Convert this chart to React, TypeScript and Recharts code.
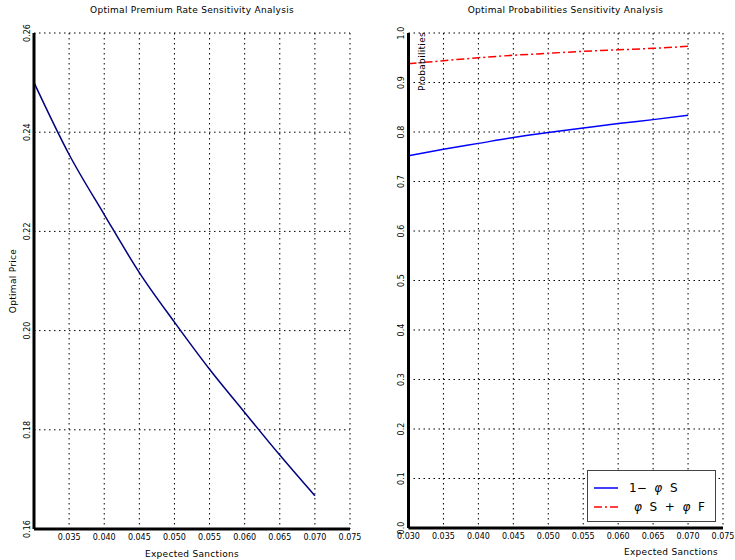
import React from "react";
import { LineChart, Line, XAxis, YAxis, CartesianGrid } from "recharts";

// valeurs
const sanctions = [0.03, 0.035, 0.04, 0.045, 0.05, 0.055, 0.06, 0.065, 0.07];
const premiumRate = [0.25, 0.2355, 0.2234, 0.2117, 0.2017, 0.1922, 0.1835, 0.1749, 0.1667];
const oneMinusPhiS = [0.752, 0.765, 0.777, 0.789, 0.799, 0.808, 0.817, 0.825, 0.8336];
const phiSPlusPhiF = [0.938, 0.944, 0.95, 0.955, 0.959, 0.963, 0.966, 0.969, 0.973];

const xTicks = [0.03, 0.035, 0.04, 0.045, 0.05, 0.055, 0.06, 0.065, 0.07, 0.075];
const priceTicks = [0.16, 0.18, 0.2, 0.22, 0.24, 0.26];
const probTicks = [0, 0.1, 0.2, 0.3, 0.4, 0.5, 0.6, 0.7, 0.8, 0.9, 1.0];

const FONT = "'DejaVu Sans', sans-serif";

const premiumData = sanctions.map((x, i) => ({ x, price: premiumRate[i] }));
const probData = sanctions.map((x, i) => ({ x, s: oneMinusPhiS[i], sf: phiSPlusPhiF[i] }));

const XTick = ({ x, y, payload, hideFirst }: any) => {
  if (hideFirst && Math.abs(payload.value - 0.03) < 1e-9) return null;
  return (
    <text x={x} y={y + 11} textAnchor="middle" fontSize={8} fontFamily={FONT} fill="#000">
      {payload.value.toFixed(3)}
    </text>
  );
};

const YTick = ({ x, y, payload, digits }: any) => (
  <text
    x={x}
    y={y}
    transform={`rotate(-90, ${x}, ${y})`}
    textAnchor="middle"
    fontSize={8}
    fontFamily={FONT}
    fill="#000"
  >
    {payload.value.toFixed(digits)}
  </text>
);

// légende encadrée
const ProbLegend = () => (
  <div
    style={{
      position: "absolute",
      left: 587,
      top: 470,
      width: 129,
      height: 52,
      border: "1.5px solid #444",
      background: "#fff",
      boxSizing: "border-box",
    }}
  >
    <svg width={129} height={52} style={{ position: "absolute", left: -1.5, top: -1.5 }}>
      <line x1={7} x2={31} y1={18} y2={18} stroke="#0000ff" strokeWidth={1.5} />
      <line x1={7} x2={31} y1={37} y2={37} stroke="#ff0000" strokeWidth={1.5} strokeDasharray="8 3 2 3" />
      <text x={42} y={22} fontSize={12} fontFamily={FONT} style={{ whiteSpace: "pre" }}>
        {"1−  "}<tspan fontStyle="italic">φ</tspan>{"  S"}
      </text>
      <text x={47} y={41} fontSize={12} fontFamily={FONT} style={{ whiteSpace: "pre" }}>
        <tspan fontStyle="italic">φ</tspan>{"  S  +  "}<tspan fontStyle="italic">φ</tspan>{"  F"}
      </text>
    </svg>
  </div>
);

const labelFont = { fontSize: 9, fontFamily: FONT, fill: "#000", letterSpacing: 0.3 };

export default function App() {
  return (
    <div style={{ position: "absolute", left: 0, top: 0, width: 735, height: 560, background: "#fff", fontFamily: FONT }}>
      <div style={{ position: "absolute", left: 34, width: 316, top: 5, fontSize: 9, letterSpacing: 0.3, textAlign: "center" }}>
        Optimal Premium Rate Sensitivity Analysis
      </div>
      <div style={{ position: "absolute", left: 408, width: 315, top: 5, fontSize: 9, letterSpacing: 0.3, textAlign: "center" }}>
        Optimal Probabilities Sensitivity Analysis
      </div>

      {/* graphique de gauche */}
      <div style={{ position: "absolute", left: 0, top: 0 }}>
        <LineChart width={370} height={560} data={premiumData} margin={{ top: 33, right: 20, left: 0, bottom: 0 }}>
          <CartesianGrid stroke="#000" strokeDasharray="1.5 3.5" />
          <XAxis
            dataKey="x"
            type="number"
            domain={[0.03, 0.075]}
            ticks={xTicks}
            height={31}
            tickSize={0}
            tickMargin={0}
            tickLine={false}
            axisLine={{ stroke: "#000", strokeWidth: 3 }}
            tick={<XTick hideFirst />}
            interval={0}
            label={{ value: "Expected Sanctions", position: "insideBottom", offset: 3, ...labelFont }}
          />
          <YAxis
            type="number"
            domain={[0.16, 0.26]}
            ticks={priceTicks}
            width={34}
            tickSize={0}
            tickMargin={4}
            tickLine={false}
            axisLine={{ stroke: "#000", strokeWidth: 3 }}
            tick={<YTick digits={2} />}
            interval={0}
            label={{ value: "Optimal Price", angle: -90, position: "insideLeft", offset: 13, ...labelFont, style: { textAnchor: "middle" } }}
          />
          <Line type="monotone" dataKey="price" stroke="#000080" strokeWidth={1.5} dot={false} isAnimationActive={false} />
        </LineChart>
      </div>

      {/* graphique de droite */}
      <div style={{ position: "absolute", left: 370, top: 0 }}>
        <LineChart width={365} height={560} data={probData} margin={{ top: 33, right: 12, left: 0, bottom: 0 }}>
          <CartesianGrid stroke="#000" strokeDasharray="1.5 3.5" />
          <XAxis
            dataKey="x"
            type="number"
            domain={[0.03, 0.075]}
            ticks={xTicks}
            height={32}
            tickSize={0}
            tickMargin={0}
            tickLine={false}
            axisLine={{ stroke: "#000", strokeWidth: 3 }}
            tick={<XTick />}
            interval={0}
            label={{ value: "Expected Sanctions", position: "insideBottomRight", offset: 5, ...labelFont }}
          />
          <YAxis
            type="number"
            domain={[0, 1]}
            ticks={probTicks}
            width={38.5}
            tickSize={0}
            tickMargin={5}
            tickLine={false}
            axisLine={{ stroke: "#000", strokeWidth: 3 }}
            tick={<YTick digits={1} />}
            interval={0}
          />
          <Line type="monotone" dataKey="s" stroke="#0000ff" strokeWidth={1.5} dot={false} isAnimationActive={false} />
          <Line type="monotone" dataKey="sf" stroke="#ff0000" strokeWidth={1.5} strokeDasharray="8 3 2 3" dot={false} isAnimationActive={false} />
        </LineChart>
        <svg width={20} height={70} style={{ position: "absolute", left: 45, top: 28 }}>
          <text x={10} y={4} transform="rotate(-90, 10, 4)" textAnchor="end" fontSize={9} fontFamily={FONT} letterSpacing={0.3}>
            Probabilities
          </text>
        </svg>
      </div>
      <ProbLegend />
    </div>
  );
}
